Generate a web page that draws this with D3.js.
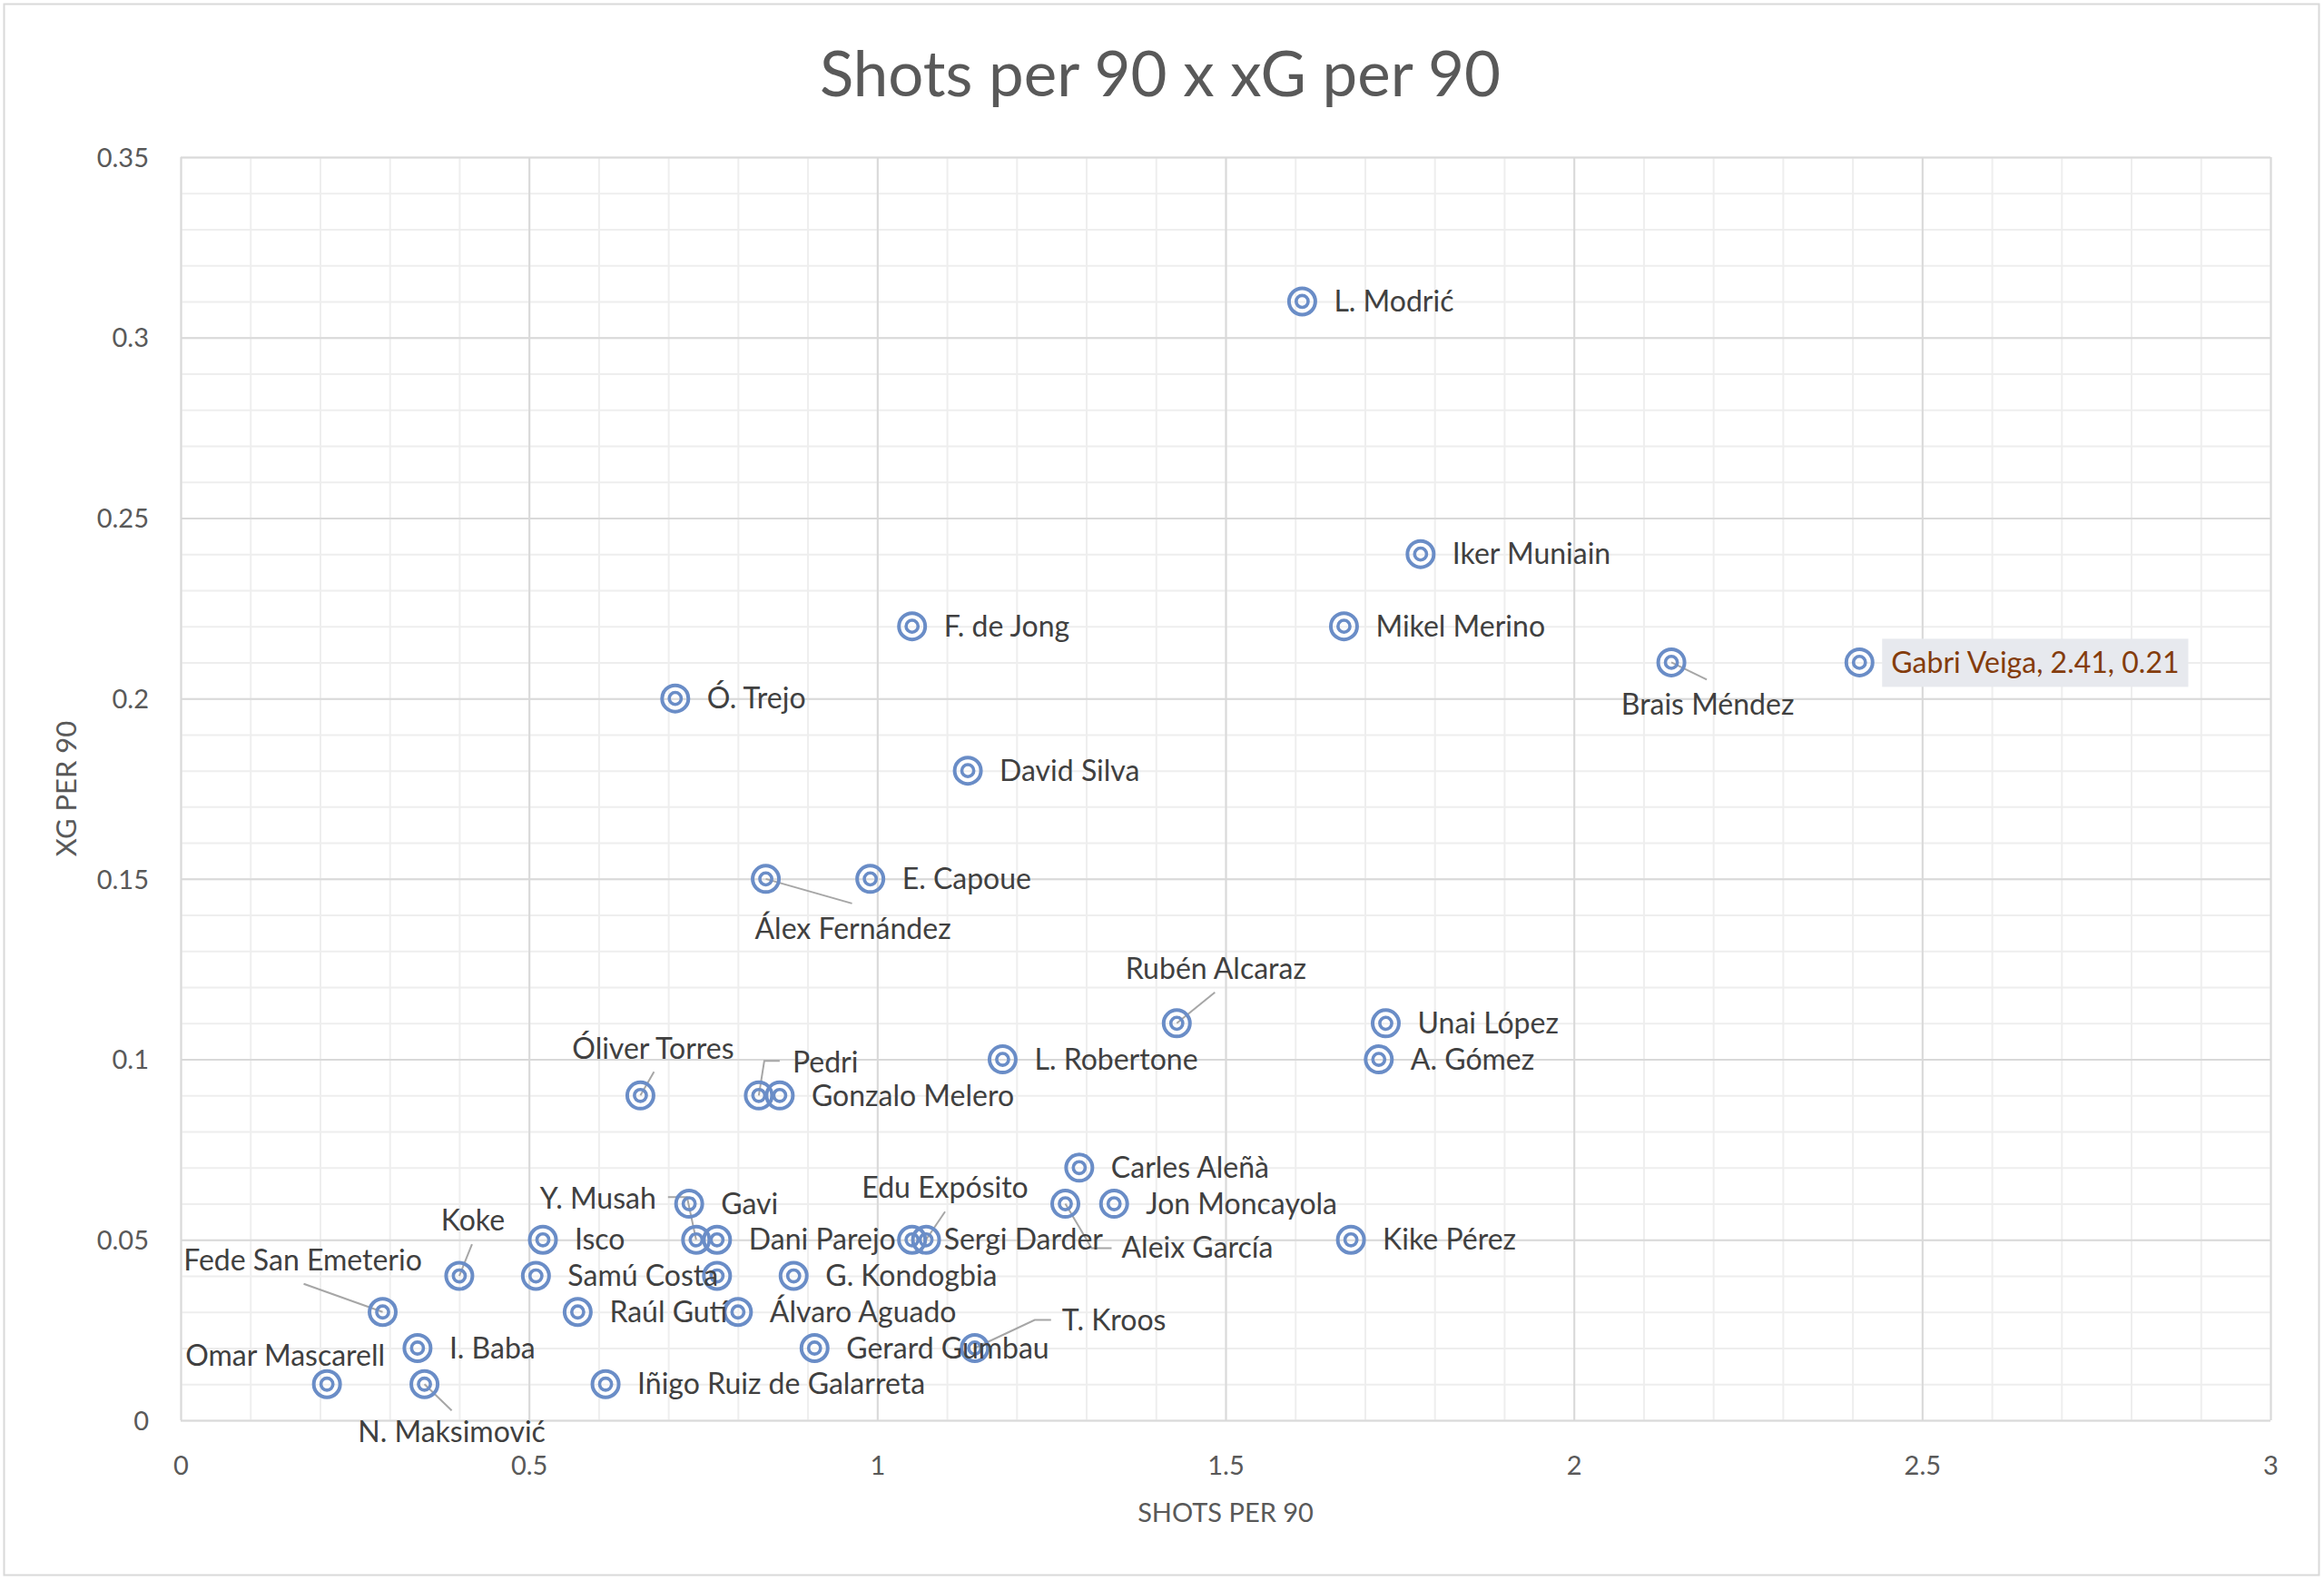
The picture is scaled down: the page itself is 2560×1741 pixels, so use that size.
<!DOCTYPE html>
<html>
<head>
<meta charset="utf-8">
<script src="https://cdn.jsdelivr.net/npm/d3@7"></script>
<style>
  html, body { margin: 0; padding: 0; background: #ffffff; }
  svg { display: block; }
  text { font-family: Lato, "Open Sans", "Noto Sans", sans-serif; }
</style>
</head>
<body>
<svg id="chart" width="2560" height="1741"></svg>
<script>
// ---------------- DATA ----------------
const players = [
  "L. Modrić", "Iker Muniain", "Mikel Merino", "Brais Méndez", "Gabri Veiga",
  "F. de Jong", "Ó. Trejo", "David Silva", "Álex Fernández", "E. Capoue",
  "Rubén Alcaraz", "Unai López", "A. Gómez", "L. Robertone", "Óliver Torres",
  "Pedri", "Gonzalo Melero", "Carles Aleñà", "Aleix García", "Jon Moncayola",
  "Kike Pérez", "Gavi", "Y. Musah", "Isco", "Dani Parejo",
  "Edu Expósito", "Sergi Darder", "Koke", "Samú Costa", "",
  "G. Kondogbia", "Fede San Emeterio", "Raúl Gutí", "Álvaro Aguado", "Omar Mascarell",
  "I. Baba", "N. Maksimović", "Iñigo Ruiz de Galarreta", "Gerard Gumbau", "T. Kroos"
];
const shotsPer90 = [
  1.61, 1.78, 1.67, 2.14, 2.41,
  1.05, 0.71, 1.13, 0.84, 0.99,
  1.43, 1.73, 1.72, 1.18, 0.66,
  0.83, 0.86, 1.29, 1.27, 1.34,
  1.68, 0.73, 0.74, 0.52, 0.77,
  1.07, 1.05, 0.40, 0.51, 0.77,
  0.88, 0.29, 0.57, 0.80, 0.21,
  0.34, 0.35, 0.61, 0.91, 1.14
];
const xgPer90 = [
  0.31, 0.24, 0.22, 0.21, 0.21,
  0.22, 0.20, 0.18, 0.15, 0.15,
  0.11, 0.11, 0.10, 0.10, 0.09,
  0.09, 0.09, 0.07, 0.06, 0.06,
  0.05, 0.06, 0.05, 0.05, 0.05,
  0.05, 0.05, 0.04, 0.04, 0.04,
  0.04, 0.03, 0.03, 0.03, 0.01,
  0.02, 0.01, 0.01, 0.02, 0.02
];
const xTickValues = [0, 0.5, 1, 1.5, 2, 2.5, 3];
const yTickValues = [0, 0.05, 0.1, 0.15, 0.2, 0.25, 0.3, 0.35];
const highlighted = "Gabri Veiga";

const chartTitle = "Shots per 90 x xG per 90";
const xTitle = "SHOTS PER 90";
const yTitle = "XG PER 90";

// ---------------- LAYOUT (label placement, pixels) ----------------
const labelLayout = {
  "Brais Méndez":      { dx: 40, dy: 46, anchor: "middle", leader: [[0,0],[39,19]] },
  "Álex Fernández":    { dx: 96, dy: 55, anchor: "middle", leader: [[0,0],[95,27]] },
  "Rubén Alcaraz":     { dx: 43, dy: -60, anchor: "middle", leader: [[0,0],[42,-34]] },
  "Óliver Torres":     { dx: 14, dy: -52, anchor: "middle", leader: [[0,0],[15,-26]] },
  "Pedri":             { dx: 37, dy: -37, anchor: "start", leader: [[0,0],[6,-38],[23,-38]] },
  "Y. Musah":          { dx: -44, dy: -45, anchor: "end", leader: [[0,0],[-10,-47],[-31,-47]] },
  "Edu Expósito":      { dx: 21, dy: -57, anchor: "middle", leader: [[0,0],[21,-31]] },
  "Aleix García":      { dx: 62, dy: 48, anchor: "start", leader: [[0,0],[29,49],[51,49]] },
  "T. Kroos":          { dx: 96, dy: -31, anchor: "start", leader: [[0,0],[66,-31],[84,-31]] },
  "Koke":              { dx: 15, dy: -61, anchor: "middle", leader: [[0,0],[14,-35]] },
  "Fede San Emeterio": { dx: -88, dy: -57, anchor: "middle", leader: [[0,0],[-87,-31]] },
  "Omar Mascarell":    { dx: -46, dy: -31, anchor: "middle", leader: null },
  "N. Maksimović":     { dx: 30, dy: 53, anchor: "middle", leader: [[0,0],[30,29]] }
};
const defaultLabel = { dx: 35, dy: 0, anchor: "start", leader: null };

// ---------------- DRAW ----------------
const W = 2560, H = 1741;
const plot = { left: 199, right: 2501, top: 173, bottom: 1564 };
const svg = d3.select("#chart");

svg.append("rect").attr("x", 0).attr("y", 0).attr("width", W).attr("height", H).attr("fill", "#ffffff");
svg.append("rect")
  .attr("x", 4.5).attr("y", 4.5).attr("width", 2550).attr("height", 1730)
  .attr("fill", "#ffffff").attr("stroke", "#d9d9d9").attr("stroke-width", 2);

const x = d3.scaleLinear().domain([0, 3]).range([plot.left, plot.right]);
const y = d3.scaleLinear().domain([0, 0.35]).range([plot.bottom, plot.top]);

const minorX = d3.range(0, 31).map(i => i / 10);
const minorY = d3.range(0, 36).map(i => i / 100);

const grid = svg.append("g");
// minor gridlines
grid.append("g")
  .attr("transform", `translate(0,${plot.bottom})`)
  .call(d3.axisBottom(x).tickValues(minorX).tickSize(-(plot.bottom - plot.top)).tickFormat(""))
  .call(g => g.select(".domain").remove())
  .call(g => g.selectAll("line").attr("stroke", "#eeeeee").attr("stroke-width", 2));
grid.append("g")
  .attr("transform", `translate(${plot.left},0)`)
  .call(d3.axisLeft(y).tickValues(minorY).tickSize(-(plot.right - plot.left)).tickFormat(""))
  .call(g => g.select(".domain").remove())
  .call(g => g.selectAll("line").attr("stroke", "#eeeeee").attr("stroke-width", 2));
// major gridlines
grid.append("g")
  .attr("transform", `translate(0,${plot.bottom})`)
  .call(d3.axisBottom(x).tickValues(xTickValues).tickSize(-(plot.bottom - plot.top)).tickFormat(""))
  .call(g => g.select(".domain").remove())
  .call(g => g.selectAll("line").attr("stroke", "#d9d9d9").attr("stroke-width", 2));
grid.append("g")
  .attr("transform", `translate(${plot.left},0)`)
  .call(d3.axisLeft(y).tickValues(yTickValues).tickSize(-(plot.right - plot.left)).tickFormat(""))
  .call(g => g.select(".domain").remove())
  .call(g => g.selectAll("line").attr("stroke", "#d9d9d9").attr("stroke-width", 2));

// axis tick labels
const fmt = d3.format("~g");
svg.append("g")
  .attr("transform", `translate(0,${plot.bottom})`)
  .call(d3.axisBottom(x).tickValues(xTickValues).tickSize(0).tickPadding(0).tickFormat(fmt))
  .call(g => g.select(".domain").remove())
  .call(g => g.selectAll("text")
    .attr("y", 60).attr("dy", 0)
    .attr("font-size", 29).attr("fill", "#595959")
    .style("font-family", "Lato, sans-serif"));
svg.append("g")
  .attr("transform", `translate(${plot.left},0)`)
  .call(d3.axisLeft(y).tickValues(yTickValues).tickSize(0).tickPadding(0).tickFormat(fmt))
  .call(g => g.select(".domain").remove())
  .call(g => g.selectAll("text")
    .attr("x", -35).attr("dy", "0.35em")
    .attr("font-size", 29).attr("fill", "#595959")
    .style("font-family", "Lato, sans-serif"));

// titles
svg.append("text")
  .attr("x", 1278).attr("y", 106)
  .attr("text-anchor", "middle")
  .attr("font-size", 69).attr("fill", "#595959")
  .text(chartTitle);
svg.append("text")
  .attr("x", (plot.left + plot.right) / 2).attr("y", 1676)
  .attr("text-anchor", "middle")
  .attr("font-size", 29).attr("fill", "#595959")
  .text(xTitle);
svg.append("text")
  .attr("transform", `translate(84,${(plot.top + plot.bottom) / 2}) rotate(-90)`)
  .attr("text-anchor", "middle")
  .attr("font-size", 31).attr("fill", "#595959")
  .text(yTitle);

// data rows
const rows = players.map((name, i) => ({ name, sx: shotsPer90[i], xg: xgPer90[i] }));

// leader lines
const leaderLine = d3.line();
svg.append("g").selectAll("path")
  .data(rows.filter(d => labelLayout[d.name] && labelLayout[d.name].leader))
  .join("path")
  .attr("d", d => {
    const cx = x(d.sx), cy = y(d.xg);
    return leaderLine(labelLayout[d.name].leader.map(p => [cx + p[0], cy + p[1]]));
  })
  .attr("fill", "none").attr("stroke", "#a6a6a6").attr("stroke-width", 2);

// markers (target style)
const mk = svg.append("g").selectAll("g").data(rows).join("g")
  .attr("transform", d => `translate(${x(d.sx)},${y(d.xg)})`);
mk.append("circle").attr("r", 14.5).attr("fill", "none")
  .attr("stroke", "#6a8dc7").attr("stroke-width", 4);
mk.append("circle").attr("r", 6.6).attr("fill", "none")
  .attr("stroke", "#6a8dc7").attr("stroke-width", 3.6);

// labels
const lab = svg.append("g").selectAll("g").data(rows.filter(d => d.name !== "")).join("g")
  .attr("transform", d => {
    const L = labelLayout[d.name] || defaultLabel;
    return `translate(${x(d.sx) + L.dx},${y(d.xg) + L.dy})`;
  });
lab.each(function(d) {
  const g = d3.select(this);
  const L = labelLayout[d.name] || defaultLabel;
  const isHi = d.name === highlighted;
  const txt = isHi ? `${d.name}, ${d.sx}, ${d.xg}` : d.name;
  const t = g.append("text")
    .attr("text-anchor", L.anchor)
    .attr("dy", "0.35em")
    .attr("font-size", 32)
    .attr("fill", isHi ? "#843c0c" : "#404040")
    .text(txt);
  if (isHi) {
    const bb = t.node().getBBox();
    g.insert("rect", "text")
      .attr("x", bb.x - 10).attr("y", -26)
      .attr("width", bb.width + 20).attr("height", 53)
      .attr("fill", "#e7e9ee");
  }
});
</script>
</body>
</html>
